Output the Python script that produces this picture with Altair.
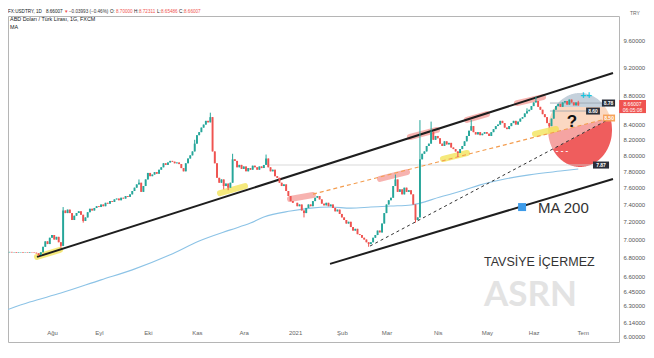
import math
import numpy as np
import pandas as pd
import altair as alt

GREEN = "#26a69a"
RED = "#ef5350"
FONT = "Liberation Sans"

# ---------------- daily closes (USDTRY, 1 Jul 2020 .. 29 Jun 2021, trading days) ----------------
closes_jul = [6.858, 6.862, 6.857, 6.860, 6.864, 6.859, 6.862, 6.856, 6.860, 6.863, 6.858, 6.861,
              6.857, 6.862, 6.859, 6.855, 6.848, 6.830, 6.860, 6.920, 6.980, 6.950, 7.020]
closes_aug = [7.050, 7.000, 7.030, 6.970, 6.930, 7.330, 7.300, 7.340, 7.300, 7.220, 7.270, 7.300,
              7.320, 7.280, 7.210, 7.250, 7.310, 7.350, 7.330, 7.360, 7.380]
closes_sep = [7.370, 7.400, 7.380, 7.420, 7.410, 7.440, 7.430, 7.460, 7.470, 7.450, 7.480, 7.470,
              7.500, 7.490, 7.520, 7.560, 7.600, 7.640, 7.660, 7.550, 7.620, 7.700]
closes_oct = [7.780, 7.740, 7.760, 7.790, 7.770, 7.820, 7.850, 7.900, 7.880, 7.910, 7.930, 7.920,
              7.900, 7.910, 7.890, 7.840, 7.800, 7.900, 7.960, 8.000, 8.050, 8.150]
closes_nov = [8.260, 8.300, 8.360, 8.400, 8.450, 8.430, 8.500, 8.050, 7.900, 7.720, 7.660, 7.700,
              7.620, 7.650, 7.600, 7.660, 7.950, 7.930, 7.850, 7.880, 7.830]
closes_dec = [7.860, 7.800, 7.840, 7.820, 7.870, 7.850, 7.820, 7.860, 7.840, 7.880, 7.960, 7.850,
              7.800, 7.820, 7.740, 7.720, 7.660, 7.620, 7.640, 7.560, 7.500, 7.440, 7.420]
closes_jan = [7.42, 7.38, 7.40, 7.33, 7.30, 7.36, 7.40, 7.38, 7.44, 7.48, 7.50, 7.46, 7.41, 7.39,
              7.42, 7.38, 7.40, 7.36, 7.32, 7.34, 7.29]
closes_feb = [7.25, 7.22, 7.18, 7.20, 7.14, 7.10, 7.12, 7.06, 7.05, 7.02, 7.00, 6.97, 6.95, 6.97,
              7.02, 7.05, 7.10, 7.08, 7.18, 7.30]
closes_mar = [7.40, 7.45, 7.48, 7.62, 7.70, 7.55, 7.58, 7.52, 7.60, 7.55, 7.57, 7.52, 7.40, 7.22,
              7.25, 7.95, 8.02, 8.05, 8.12, 8.15, 8.30, 8.20, 8.25]
closes_apr = [8.22, 8.15, 8.12, 8.18, 8.14, 8.16, 8.10, 8.08, 8.05, 8.03, 8.08, 8.12, 8.18, 8.25,
              8.32, 8.38, 8.30, 8.27, 8.30, 8.26, 8.28, 8.30]
closes_may = [8.28, 8.25, 8.30, 8.34, 8.38, 8.40, 8.45, 8.42, 8.36, 8.34, 8.38, 8.42, 8.45, 8.40,
              8.44, 8.48, 8.50, 8.55, 8.58, 8.60, 8.65]
closes_jun = [8.70, 8.72, 8.64, 8.60, 8.54, 8.50, 8.42, 8.38, 8.48, 8.60, 8.65, 8.68, 8.64, 8.70,
              8.72, 8.67, 8.74, 8.70, 8.66, 8.70, 8.66007]
first_open = 6.860

wick_high = {28: 7.37, 62: 7.70, 87: 8.20, 94: 8.56, 104: 8.02, 119: 8.01, 177: 7.76,
             188: 8.46, 193: 8.44, 211: 8.46, 236: 8.62, 240: 8.78, 259: 8.72311}
wick_low = {17: 6.82, 27: 6.91, 37: 7.19, 100: 7.58, 102: 7.57, 136: 7.25, 165: 6.92,
            186: 7.19, 205: 7.98, 246: 8.36, 259: 8.65486}

month_labels = ["Ağu", "Eyl", "Eki", "Kas", "Ara", "2021", "Şub", "Mar", "Nis", "May", "Haz", "Tem"]
price_ticks = [6.0, 6.14, 6.30, 6.45, 6.60, 6.80, 7.0, 7.2, 7.4, 7.6, 7.8, 8.0, 8.2, 8.4, 8.8, 9.2, 9.6]

# MA 200 (read points)
ma_i = [0, 13, 27, 45, 59, 76, 89, 103, 112, 118, 130, 139, 148, 157, 166, 175, 184, 197, 208, 215,
        224, 237, 251, 259]
ma_p = [6.239, 6.339, 6.430, 6.566, 6.671, 6.832, 6.983, 7.108, 7.185, 7.254, 7.324, 7.358, 7.370,
        7.358, 7.370, 7.382, 7.395, 7.488, 7.573, 7.634, 7.694, 7.756, 7.803, 7.828]

# drawings (bar index, price)
trend_seg = ["support", "support", "lower", "lower"]
trend_i = [16.28, 274.57, 147.67, 274.57]
trend_p = [6.810, 9.116, 6.735, 7.706]
orange_i = [140.04, 274.57]
orange_p = [7.523, 8.501]
blackd_i = [165.61, 274.57]
blackd_p = [6.928, 8.501]
yellow_seg = ["y1", "y1", "y2", "y2", "y3", "y3", "y4", "y4"]
yellow_i = [16.28, 26.59, 98.34, 109.55, 198.34, 209.10, 239.60, 249.00]
yellow_p = [6.810, 6.886, 7.535, 7.620, 7.954, 8.030, 8.276, 8.342]
red_seg = ["r1", "r1", "r2", "r2", "r3", "r3", "r4", "r4", "r5", "r5"]
red_i = [129.73, 140.04, 170.09, 182.20, 183.54, 195.65, 209.10, 218.07, 231.52, 243.18]
red_p = [7.464, 7.512, 7.706, 7.791, 8.236, 8.329, 8.462, 8.542, 8.692, 8.775]
level_i0 = [119.4, 246.3, 246.3]
level_i1 = [265.6, 269.6, 262.5]
level_p = [7.8785, 8.692, 8.583]
level_col = ["#cfcfcf", "#9aa3ad", "#9aa3ad"]

box_text = ["8.78", "8.60", "8.50", "7.87"]
box_i0 = [269.6, 262.5, 270.1, 265.6]
box_i1 = [275.5, 268.7, 275.5, 272.8]
box_ptop = [8.741, 8.630, 8.535, 7.922]
box_pbot = [8.644, 8.535, 8.441, 7.834]
box_fill = ["#2a2e39", "#2a2e39", "#f7a35c", "#2a2e39"]

ell_ci, ell_cp = 259.8, 8.329
ell_wi, ell_hl = 14.35, 0.0587
band_top_p = 8.637
zone_names = ["blue", "peach", "pink", "red"]
zone_colors = ["#c5d1dc", "#fbd8c2", "#f5a4a2", "#ef5d5d"]

header_txt = ["FX:USDTRY, 1D", "8.66007", "▼", "−0.03993 (−0.46%)", "O:", "8.70000", "H:", "8.72311",
              "L:", "8.65486", "C:", "8.66007"]
header_col = ["#131722", "#131722", RED, "#333333", "#131722", RED, "#131722", RED, "#131722", RED,
              "#131722", RED]
header_i = [3.3, 20.3, 28.4, 30.6, 49.0, 51.7, 59.8, 62.0, 70.1, 71.9, 80.0, 82.2]
legend_txt = ["ABD Doları / Türk Lirası, 1G, FXCM", "MA"]
legend_p = [9.93, 9.80]

# ---------------- tables ----------------
closes = (closes_jul + closes_aug + closes_sep + closes_oct + closes_nov + closes_dec +
          closes_jan + closes_feb + closes_mar + closes_apr + closes_may + closes_jun)
n = len(closes)
opens = [first_open] + closes[:-1]
df = pd.DataFrame({"i": np.arange(n), "open": opens, "close": closes})
df["high"] = [wick_high.get(i, max(o, c)) for i, o, c in zip(df.i, df.open, df.close)]
df["low"] = [wick_low.get(i, min(o, c)) for i, o, c in zip(df.i, df.open, df.close)]
df["col"] = np.where(df.close >= df.open, GREEN, RED)
df["xl"] = df.i - 0.43
df["xr"] = df.i + 0.43

days = pd.bdate_range("2020-07-01", periods=290)
month_start_idx = [i for i in range(1, len(days)) if days[i].month != days[i - 1].month][:12]
label_expr = "[" + ",".join("'%s'" % s for s in month_labels) + "][indexof([" + \
    ",".join(str(v) for v in month_start_idx) + "], datum.value)]"

xs = alt.Scale(domain=[3.274, 277.26], nice=False, zero=False, padding=0)
ys = alt.Scale(type="log", domain=[5.950, 9.979], nice=False, zero=False, padding=0)

x_axis = alt.Axis(values=month_start_idx, labelExpr=label_expr, title=None, grid=False, ticks=False,
                  domain=False, labelPadding=-13, labelFontSize=6, labelColor="#666",
                  labelFont=FONT, labelOverlap=False, labelFlush=False)
y_axis = alt.Axis(orient="right", values=price_ticks, format=".5f", title=None, grid=False,
                  ticks=False, domain=False, labelFontSize=6, labelColor="#555", labelPadding=4,
                  labelFont=FONT, labelOverlap=False)


def X(f):
    return alt.X(f, type="quantitative", scale=xs, axis=x_axis)


def Y(f):
    return alt.Y(f, type="quantitative", scale=ys, axis=y_axis, stack=None)


def LIT(f):
    return alt.Color(f, type="nominal", scale=None)


# ellipse zones
t = np.linspace(ell_ci - ell_wi, ell_ci + ell_wi, 161)
lc = math.log(ell_cp)


def lin_ln(ii, pp, tt):
    a0, a1 = math.log(pp[0]), math.log(pp[1])
    return a0 + (a1 - a0) * (tt - ii[0]) / (ii[1] - ii[0])


rows = []
for tt in t:
    d = ell_hl * math.sqrt(max(0.0, 1 - ((tt - ell_ci) / ell_wi) ** 2))
    top, bot = lc + d, lc - d

    def cl(v):
        return min(max(v, bot), top)
    b1 = cl(math.log(band_top_p))
    b2 = cl(lin_ln(orange_i, orange_p, tt))
    b3 = cl(lin_ln(blackd_i, blackd_p, tt))
    for z, zc, hi, lo in zip(zone_names, zone_colors, [top, b1, b2, b3], [b1, b2, b3, bot]):
        rows.append({"t": tt, "zone": z, "c": zc, "hi": math.exp(hi), "lo": math.exp(lo)})
ell_df = pd.DataFrame(rows)

ellipse = alt.Chart(ell_df).mark_area(opacity=1).encode(
    x=X("t"), y=Y("hi"), y2="lo", color=LIT("c"), detail="zone:N")

trend_df = pd.DataFrame({"seg": trend_seg, "i": trend_i, "p": trend_p})
trend = alt.Chart(trend_df).mark_line(color="#1e1e1e", strokeWidth=2).encode(
    x=X("i"), y=Y("p"), detail="seg:N")

orange = alt.Chart(pd.DataFrame({"i": orange_i, "p": orange_p})).mark_line(
    color="#f39c4e", strokeWidth=1.1, strokeDash=[4, 3]).encode(x=X("i"), y=Y("p"))
blackd = alt.Chart(pd.DataFrame({"i": blackd_i, "p": blackd_p})).mark_line(
    color="#333333", strokeWidth=1, strokeDash=[3, 3]).encode(x=X("i"), y=Y("p"))

yellow = alt.Chart(pd.DataFrame({"seg": yellow_seg, "i": yellow_i, "p": yellow_p})).mark_line(
    color="#f1df45", strokeWidth=6, strokeCap="round", opacity=0.7).encode(
    x=X("i"), y=Y("p"), detail="seg:N")
redhl = alt.Chart(pd.DataFrame({"seg": red_seg, "i": red_i, "p": red_p})).mark_line(
    color="#f28b86", strokeWidth=6, strokeCap="round", opacity=0.65).encode(
    x=X("i"), y=Y("p"), detail="seg:N")

ma = alt.Chart(pd.DataFrame({"i": ma_i, "p": ma_p})).mark_line(
    color="#8cc3e6", strokeWidth=1.1, interpolate="monotone").encode(x=X("i"), y=Y("p"))

levels = alt.Chart(pd.DataFrame({"i0": level_i0, "i1": level_i1, "p": level_p, "c": level_col})).mark_rule(
    strokeWidth=0.8).encode(x=X("i0"), x2="i1", y=Y("p"), color=LIT("c"))

wick = alt.Chart(df).mark_rule(strokeWidth=1).encode(
    x=X("i"), y=Y("low"), y2="high", color=LIT("col"))
body = alt.Chart(df).mark_rect().encode(
    x=X("xl"), x2="xr", y=Y("open"), y2="close", color=LIT("col"))

box_df = pd.DataFrame({"txt": box_text, "i0": box_i0, "i1": box_i1, "pt": box_ptop, "pb": box_pbot,
                       "fill": box_fill})
box_df["ic"] = (box_df.i0 + box_df.i1) / 2
box_df["pc"] = np.sqrt(box_df.pt * box_df.pb)
boxes = alt.Chart(box_df).mark_rect().encode(
    x=X("i0"), x2="i1", y=Y("pt"), y2="pb", color=LIT("fill"))
box_txt = alt.Chart(box_df).mark_text(fontSize=5, fontWeight="bold", color="white", font=FONT).encode(
    x=X("ic"), y=Y("pc"), text="txt:N")

price_lbl = alt.Chart(pd.DataFrame({"i0": [277.3], "i1": [289.4], "pt": [8.734], "pb": [8.555]})).mark_rect(
    color=RED).encode(x=X("i0"), x2="i1", y=Y("pt"), y2="pb")
price_txt = alt.Chart(pd.DataFrame({"i": [283.3, 283.3], "p": [8.6785, 8.597],
                                    "txt": ["8.66007", "06:05:08"]})).mark_text(
    fontSize=5, color="white", font=FONT).encode(x=X("i"), y=Y("p"), text="txt:N")

notes = pd.DataFrame({
    "txt": ["?", "++", "- - -"],
    "i": [256.2, 262.5, 251.7],
    "p": [8.434, 8.789, 8.056],
    "c": ["#111111", "#19c3dc", "#ffffff"],
    "s": [17, 10, 8],
})
note_txt = alt.Chart(notes).mark_text(fontWeight="bold", font=FONT, baseline="middle").encode(
    x=X("i"), y=Y("p"), text="txt:N", color=LIT("c"),
    size=alt.Size("s:Q", scale=None, legend=None))

ma_sq = alt.Chart(pd.DataFrame({"i": [233.8], "p": [7.370]})).mark_square(
    size=64, color="#3d9be9", opacity=1).encode(x=X("i"), y=Y("p"))
ma_lbl = alt.Chart(pd.DataFrame({"i": [240.9], "p": [7.358], "txt": ["MA 200"]})).mark_text(
    align="left", baseline="middle", fontSize=15, color="#333333", font=FONT).encode(
    x=X("i"), y=Y("p"), text="txt:N")
tav = alt.Chart(pd.DataFrame({"i": [216.7], "p": [6.755], "txt": ["TAVSİYE İÇERMEZ"]})).mark_text(
    align="left", baseline="middle", fontSize=12.5, color="#333333", font=FONT).encode(
    x=X("i"), y=Y("p"), text="txt:N")
asrn = alt.Chart(pd.DataFrame({"i": [216.7], "p": [6.410], "txt": ["ASRN"]})).mark_text(
    align="left", baseline="middle", fontSize=35, fontWeight="bold", color="#e3e3e3",
    font="Lato").encode(x=X("i"), y=Y("p"), text="txt:N")

header = alt.Chart(pd.DataFrame({"txt": header_txt, "i": header_i, "c": header_col})).mark_text(
    align="left", baseline="middle", fontSize=4.6, font=FONT).encode(
    x=X("i"), y=alt.value(-4), text="txt:N", color=LIT("c"))
legend = alt.Chart(pd.DataFrame({"txt": legend_txt, "p": legend_p, "i": [4.2, 4.2]})).mark_text(
    align="left", baseline="middle", fontSize=5.4, font=FONT, color="#131722").encode(
    x=X("i"), y=Y("p"), text="txt:N")
try_lbl = alt.Chart(pd.DataFrame({"txt": ["TRY"]})).mark_text(
    align="left", baseline="middle", fontSize=5, font=FONT, color="#666").encode(
    x=alt.value(622), y=alt.value(-3), text="txt:N")

chart = alt.layer(
    ellipse, yellow, redhl, ma, levels, trend, orange, blackd, wick, body,
    boxes, box_txt, price_lbl, price_txt, note_txt, ma_sq, ma_lbl, tav, asrn, header, legend, try_lbl
).properties(
    width=611, height=326,
    padding={"left": 0, "top": 8, "right": 27, "bottom": 8},
    autosize=alt.AutoSizeParams(type="none"),
).configure_view(stroke="#b5b5b5", strokeWidth=1).configure_axis(labelFont=FONT)

chart.save("out.html", embed_options={"renderer": "svg", "actions": False})
